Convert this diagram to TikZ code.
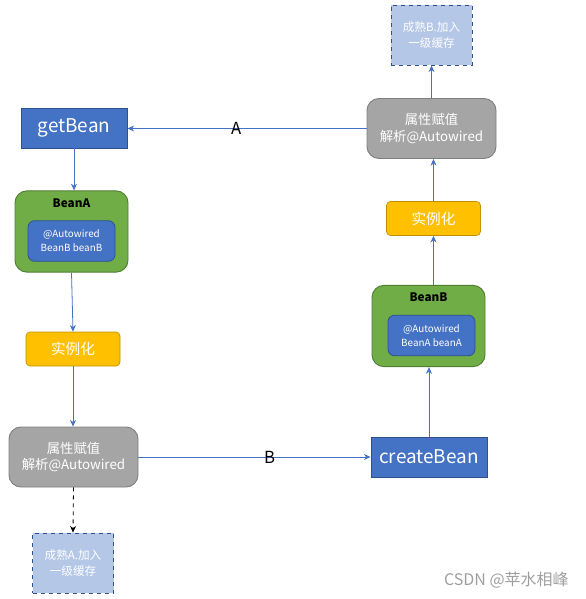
\documentclass[tikz,border=0pt]{standalone}
\usepackage{fontspec}
\setmainfont{Noto Sans CJK SC}
\usetikzlibrary{arrows.meta,positioning}
\definecolor{bblue}{HTML}{4472C4}
\definecolor{bborder}{HTML}{2F528F}
\definecolor{ggreen}{HTML}{70AD47}
\definecolor{gborder}{HTML}{507E32}
\definecolor{yyellow}{HTML}{FFC000}
\definecolor{yborder}{HTML}{BF9000}
\definecolor{ggray}{HTML}{A5A5A5}
\definecolor{grborder}{HTML}{7F7F7F}
\definecolor{lblue}{HTML}{B4C7E7}
\definecolor{lnblue}{HTML}{4472C4}
\tikzset{
  bluebox/.style={draw=bborder,fill=bblue,text=white,minimum width=79.5pt,minimum height=30pt,inner sep=0pt,font=\fontsize{14.2}{16}\selectfont,line width=0.7pt},
  outerbox/.style={draw=gborder,fill=ggreen,rounded corners=9pt,minimum width=84.75pt,minimum height=61pt,inner sep=0pt,line width=0.7pt},
  innerbox/.style={draw=bborder,fill=bblue,text=white,rounded corners=5pt,minimum width=65.25pt,minimum height=30.5pt,inner sep=0pt,align=center,font=\fontsize{7.4}{10.5}\selectfont,line width=0.6pt},
  beanlabel/.style={font=\bfseries\fontsize{8.8}{10}\selectfont,inner sep=0pt},
  yellowbox/.style={draw=yborder,fill=yyellow,text=white,rounded corners=3pt,minimum width=70.5pt,minimum height=25.5pt,inner sep=0pt,font=\fontsize{11}{13}\selectfont,line width=0.5pt},
  graybox/.style={draw=grborder,fill=ggray,text=white,rounded corners=9pt,minimum width=96.75pt,minimum height=45pt,inner sep=0pt,align=center,font=\fontsize{10}{12.5}\selectfont,line width=0.7pt},
  cachebox/.style={draw=bborder,dashed,fill=lblue,text=white,minimum width=60.75pt,minimum height=45pt,inner sep=0pt,align=center,font=\fontsize{8.7}{11.5}\selectfont,line width=0.6pt},
  conn/.style={draw=lnblue,line width=0.6pt,-{Stealth[length=5pt,width=4.5pt]}},
  dconn/.style={draw=black,dashed,line width=0.6pt,-{Stealth[length=5pt,width=4.5pt]}},
  edgelabel/.style={font=\fontsize{12.5}{14}\selectfont,inner sep=0pt}
}
\begin{document}
\begin{tikzpicture}[x=0.75pt,y=-0.75pt]
\useasboundingbox (0,0) rectangle (585,599);
% left column
\node[bluebox] (getBean) at (74,128) {getBean};
\node[outerbox] (beanA) at (71.5,231.5) {};
\node[beanlabel] (beanAlbl) at (71.5,203) {BeanA};
\node[innerbox] (beanAin) at (71.5,241) {@Autowired\\BeanB beanB};
\node[yellowbox] (shiA) at (73,349) {实例化};
\node[graybox] (attrA) at (73.5,457) {属性赋值\\解析@Autowired};
\node[cachebox] (cacheA) at (73,563) {成熟A.加入\\一级缓存};
% right column
\node[bluebox,minimum width=87pt] (createBean) at (429,457) {createBean};
\node[outerbox] (beanB) at (428.5,326) {};
\node[beanlabel] (beanBlbl) at (428.5,297) {BeanB};
\node[innerbox] (beanBin) at (431.5,335.5) {@Autowired\\BeanA beanA};
\node[yellowbox] (shiB) at (433.5,218.5) {实例化};
\node[graybox] (attrB) at (431.5,128.5) {属性赋值\\解析@Autowired};
\node[cachebox] (cacheB) at (431.5,35) {成熟B.加入\\一级缓存};
% connectors
\draw[conn] (getBean.south) -- (getBean.south |- beanA.north);
\draw[conn] (beanA.south) -- (shiA.north);
\draw[conn] (shiA.south) -- (attrA.north -| shiA.south);
\draw[dconn] (attrA.south) -- (cacheA.north);
\draw[conn] (attrA.east) -- (attrA.east -| createBean.west) node[edgelabel,pos=0.565] (lblB) {B};
\draw[conn] (createBean.north) -- (createBean.north |- beanB.south);
\draw[conn] (shiB.south |- beanB.north) -- (shiB.south);
\draw[conn] (shiB.north) -- (shiB.north |- attrB.south);
\draw[conn] (attrB.north) -- (cacheB.south);
\draw[conn] (attrB.west) -- (attrB.west -| getBean.east) node[edgelabel,pos=0.545] (lblA) {A};
% watermark
\node[anchor=east,text=gray!75,font=\fontsize{12}{14}\selectfont,inner sep=0pt] (wm) at (569,580) {CSDN @苹水相峰};
\end{tikzpicture}
\end{document}
